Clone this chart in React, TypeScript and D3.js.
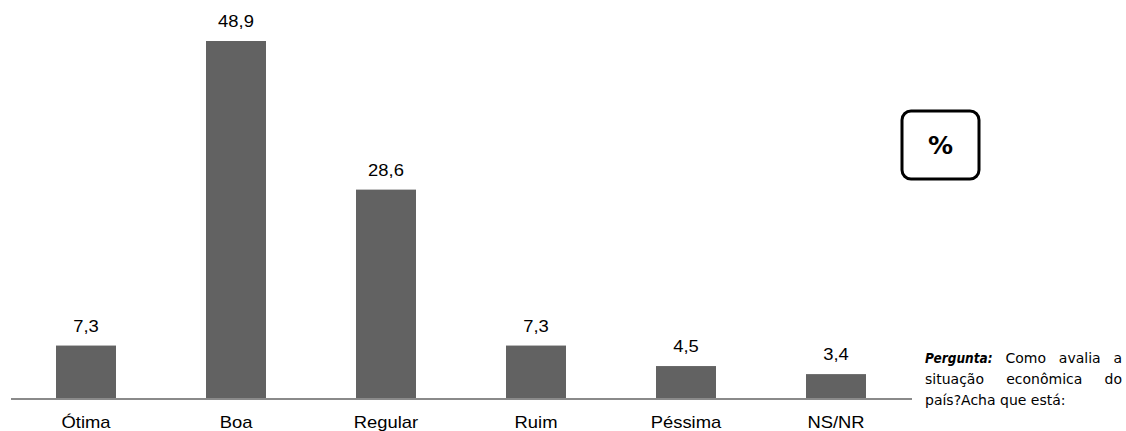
import React from "react";
import * as d3 from "d3";

const categories = ["Ótima", "Boa", "Regular", "Ruim", "Péssima", "NS/NR"];
const values = [7.3, 48.9, 28.6, 7.3, 4.5, 3.4];
const valueLabels = ["7,3", "48,9", "28,6", "7,3", "4,5", "3,4"];
const noteLines = [
  { words: ["Pergunta:", "Como", "avalia", "a"], justify: true },
  { words: ["situação", "econômica", "do"], justify: true },
  { words: ["país?Acha", "que", "está:"], justify: false },
];

const W = 1126;
const H = 431;

function measure(text: string, font: string): number {
  if (typeof document === "undefined") return text.length * 7;
  const c = (measure as any).c || ((measure as any).c = document.createElement("canvas"));
  const ctx = c.getContext("2d");
  ctx.font = font;
  return ctx.measureText(text).width;
}

const labelFont = "'Liberation Sans', Arial, sans-serif";

export default function App() {
  const x = d3.scaleBand<string>().domain(categories).range([11, 911]).paddingInner(0.6).paddingOuter(0.3);
  const y = d3.scaleLinear().domain([0, 48.9]).range([399, 41]);
  const regFamily = "'DejaVu Sans', sans-serif";
  const boldFamily = "'DejaVu Sans Condensed', 'DejaVu Sans', sans-serif";
  const regSize = 14;
  const boldSize = 13.5;
  const regFont = `${regSize}px 'DejaVu Sans'`;
  const boldFont = `italic bold ${boldSize}px 'DejaVu Sans Condensed'`;
  const nx0 = 925;
  const nx1 = 1122;
  const baselines = [363, 384, 405];
  const sx = 1.15;

  return (
    <svg width={W} height={H} style={{ position: "absolute", left: 0, top: 0, background: "#fff" }}>
      {categories.map((c, i) => {
        const cx = (x(c) as number) + x.bandwidth() / 2;
        return (
          <g key={c}>
            <rect x={x(c)} y={y(values[i])} width={x.bandwidth()} height={399 - y(values[i])} fill="#626262" />
            <text transform={`translate(${cx},${y(values[i]) - 14}) scale(${sx},1)`} textAnchor="middle"
              fontFamily={labelFont} fontSize={16} fill="#000">{valueLabels[i]}</text>
            <text transform={`translate(${cx},428) scale(${sx},1)`} textAnchor="middle"
              fontFamily={labelFont} fontSize={16} fill="#000">{c}</text>
          </g>
        );
      })}
      <line x1={11} x2={912} y1={399} y2={399} stroke="#8a8a8a" strokeWidth={2} />
      <rect x={902} y={111} width={77} height={68} rx={9} ry={9} fill="#fff" stroke="#000" strokeWidth={3} />
      <text x={940.5} y={154} textAnchor="middle" fontFamily="'DejaVu Sans', sans-serif" fontSize={25} fontWeight="bold" fill="#000">%</text>
      {noteLines.map((line, li) => {
        const isBold = (wi: number) => li === 0 && wi === 0;
        const widths = line.words.map((w, wi) => measure(w, isBold(wi) ? boldFont : regFont));
        const total = widths.reduce((a, b) => a + b, 0);
        const gap = line.justify ? (nx1 - nx0 - total) / (line.words.length - 1) : measure(" ", regFont);
        let cx = nx0;
        return line.words.map((w, wi) => {
          const px = cx;
          cx += widths[wi] + gap;
          return (
            <text key={li + "-" + wi} x={px} y={baselines[li]}
              fontFamily={isBold(wi) ? boldFamily : regFamily} fontSize={isBold(wi) ? boldSize : regSize}
              fontStyle={isBold(wi) ? "italic" : "normal"} fontWeight={isBold(wi) ? "bold" : "normal"} fill="#000">{w}</text>
          );
        });
      })}
    </svg>
  );
}
